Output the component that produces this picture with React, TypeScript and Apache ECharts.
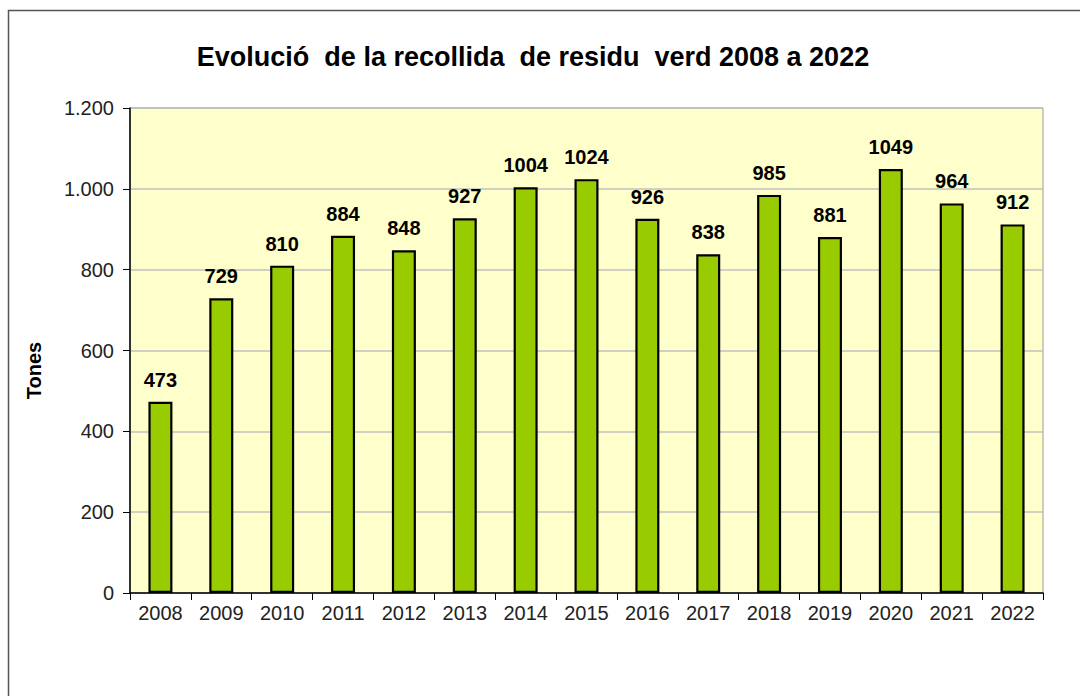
import React, { useEffect, useRef } from "react";
import * as echarts from "echarts";

const years = ["2008","2009","2010","2011","2012","2013","2014","2015","2016","2017","2018","2019","2020","2021","2022"];
const tones = [473, 729, 810, 884, 848, 927, 1004, 1024, 926, 838, 985, 881, 1049, 964, 912];
const titleText = "Evolució  de la recollida  de residu  verd 2008 a 2022";
const yAxisName = "Tones";

export default function App() {
  const ref = useRef<HTMLDivElement>(null);
  useEffect(() => {
    if (!ref.current) return;
    const chart = echarts.init(ref.current, null, { renderer: "svg" });
    const font = "Arial, 'Liberation Sans', sans-serif";
    chart.setOption({
      animation: false,
      backgroundColor: "#ffffff",
      textStyle: { fontFamily: font },
      title: {
        text: titleText,
        left: 528,
        textAlign: "center",
        top: 38,
        textStyle: { fontFamily: font, fontSize: 27, fontWeight: "bold", color: "#000" },
      },
      graphic: [
        {
          type: "rect",
          shape: { x: 8.5, y: 10.5, width: 1200, height: 1000 },
          style: { fill: "none", stroke: "#555", lineWidth: 1.5 },
          z: 100,
        },
      ],
      grid: {
        left: 130,
        right: 37,
        top: 108,
        bottom: 103,
        show: true,
        backgroundColor: "#FFFFCC",
        borderColor: "#999999",
        borderWidth: 1,
      },
      xAxis: {
        type: "category",
        data: years,
        axisLine: { lineStyle: { color: "#000", width: 1.5 } },
        axisTick: { show: true, alignWithLabel: false, length: 7, lineStyle: { color: "#000" } },
        axisLabel: { fontFamily: font, fontSize: 20, color: "#222", margin: 10 },
      },
      yAxis: {
        type: "value",
        min: 0,
        max: 1200,
        interval: 200,
        name: yAxisName,
        nameLocation: "middle",
        nameGap: 86,
        nameTextStyle: { fontFamily: font, fontSize: 20, fontWeight: "bold", color: "#000", padding: [0, 40, 0, 0] },
        axisLine: { show: true, lineStyle: { color: "#000", width: 1.5 } },
        axisTick: { show: true, length: 7, lineStyle: { color: "#000" } },
        axisLabel: {
          fontFamily: font,
          fontSize: 20,
          color: "#222",
          margin: 16,
          formatter: (v: number) => (v >= 1000 ? `${Math.floor(v / 1000)}.${String(v % 1000).padStart(3, "0")}` : String(v)),
        },
        splitLine: { show: true, lineStyle: { color: "#C0C0C0", width: 1.5 } },
      },
      series: [
        {
          type: "bar",
          data: tones,
          barWidth: 24,
          itemStyle: { color: "#99CC00", borderColor: "#000", borderWidth: 2.2 },
          label: {
            show: true,
            position: "top",
            distance: 12,
            fontFamily: font,
            fontSize: 20,
            fontWeight: "bold",
            color: "#000",
          },
        },
      ],
    });
    return () => chart.dispose();
  }, []);
  return <div ref={ref} style={{ position: "fixed", left: 0, top: 0, width: 1080, height: 696 }} />;
}
